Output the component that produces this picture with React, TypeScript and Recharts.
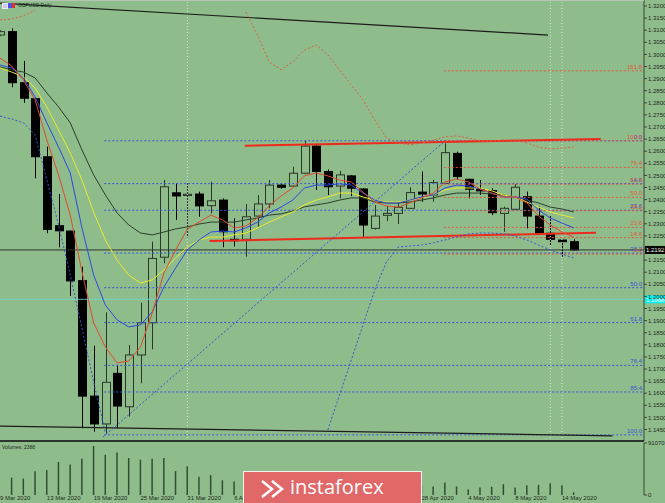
import React from 'react';
import { ComposedChart, Bar, Line, XAxis, YAxis, ReferenceLine } from 'recharts';

const BG = '#8fbc8b';

const dates = [
  '9 Mar 2020', '10 Mar 2020', '11 Mar 2020', '12 Mar 2020', '13 Mar 2020',
  '16 Mar 2020', '17 Mar 2020', '18 Mar 2020', '19 Mar 2020', '20 Mar 2020',
  '23 Mar 2020', '24 Mar 2020', '25 Mar 2020', '26 Mar 2020', '27 Mar 2020',
  '30 Mar 2020', '31 Mar 2020', '1 Apr 2020', '2 Apr 2020', '3 Apr 2020',
  '6 Apr 2020', '7 Apr 2020', '8 Apr 2020', '9 Apr 2020', '10 Apr 2020',
  '13 Apr 2020', '14 Apr 2020', '15 Apr 2020', '16 Apr 2020', '17 Apr 2020',
  '20 Apr 2020', '21 Apr 2020', '22 Apr 2020', '23 Apr 2020', '24 Apr 2020',
  '27 Apr 2020', '28 Apr 2020', '29 Apr 2020', '30 Apr 2020', '1 May 2020',
  '4 May 2020', '5 May 2020', '6 May 2020', '7 May 2020', '8 May 2020',
  '11 May 2020', '12 May 2020', '13 May 2020', '14 May 2020', '15 May 2020',
];

const opens = [
  1.3080, 1.3094, 1.2883, 1.2817, 1.2577, 1.2292, 1.2270, 1.2065, 1.1588, 1.1473,
  1.1682, 1.1544, 1.1758, 1.1891, 1.2162, 1.2428, 1.2417, 1.2423, 1.2375, 1.2398,
  1.2236, 1.2236, 1.2332, 1.2382, 1.2460, 1.2456, 1.2509, 1.2621, 1.2516, 1.2456,
  1.2498, 1.2444, 1.2281, 1.2335, 1.2343, 1.2364, 1.2431, 1.2419, 1.2467, 1.2591,
  1.2484, 1.2443, 1.2437, 1.2343, 1.2360, 1.2412, 1.2332, 1.2261, 1.2233, 1.2226,
];
const highs = [
  1.3100, 1.3108, 1.2973, 1.2820, 1.2619, 1.2423, 1.2272, 1.2123, 1.1796, 1.1934,
  1.1717, 1.1799, 1.1974, 1.2226, 1.2481, 1.2467, 1.2470, 1.2433, 1.2474, 1.2405,
  1.2323, 1.2382, 1.2419, 1.2481, 1.2466, 1.2536, 1.2643, 1.2630, 1.2525, 1.2519,
  1.2502, 1.2447, 1.2378, 1.2374, 1.2387, 1.2451, 1.2516, 1.2481, 1.2633, 1.2598,
  1.2486, 1.2481, 1.2447, 1.2371, 1.2464, 1.2433, 1.2371, 1.2336, 1.2236, 1.2236,
];
const lows = [
  1.3075, 1.2864, 1.2800, 1.2488, 1.2261, 1.2203, 1.2002, 1.1455, 1.1441, 1.1434,
  1.1455, 1.1503, 1.1641, 1.1781, 1.2137, 1.2316, 1.2244, 1.2329, 1.2343, 1.2203,
  1.2206, 1.2164, 1.2288, 1.2364, 1.2445, 1.2453, 1.2505, 1.2440, 1.2419, 1.2405,
  1.2414, 1.2247, 1.2276, 1.2311, 1.2299, 1.2362, 1.2391, 1.2391, 1.2465, 1.2481,
  1.2405, 1.2419, 1.2336, 1.2267, 1.2357, 1.2281, 1.2259, 1.2212, 1.2164, 1.2190,
];
const closes = [
  1.3094, 1.2883, 1.2819, 1.2577, 1.2277, 1.2271, 1.2064, 1.1588, 1.1473, 1.1645,
  1.1547, 1.1758, 1.1891, 1.2157, 1.2453, 1.2415, 1.2422, 1.2374, 1.2395, 1.2267,
  1.2230, 1.2329, 1.2382, 1.2460, 1.2451, 1.2509, 1.2621, 1.2516, 1.2453, 1.2502,
  1.2447, 1.2295, 1.2332, 1.2343, 1.2368, 1.2429, 1.2423, 1.2470, 1.2594, 1.2495,
  1.2443, 1.2436, 1.2346, 1.2364, 1.2451, 1.2332, 1.2261, 1.2236, 1.2226, 1.2192,
];
const volumes = [
  null, 30400, 28700, 41800, 43500, 57900, 53300, 63600, 85900, 70400,
  74400, 64800, 61900, 63600, 64800, 41800, 50300, 32100, 34900, 25800,
  23500, 22000, 21000, 19000, 14000, 17000, 21000, 20000, 17000, 16000,
  18000, 22000, 17000, 15000, 14000, 16000, 17000, 14900, 21800, 14900,
  9800, 13200, 14300, 18900, 13200, 17200, 17700, 20600, 17200, 4600,
];

// moving averages
const maRed = [
  1.2985, 1.2952, 1.2894, 1.2812, 1.2646, 1.2502, 1.2336, 1.2102, 1.1890, 1.1791,
  1.1725, 1.1733, 1.1791, 1.1931, 1.2097, 1.2192, 1.2278, 1.2307, 1.2336, 1.2316,
  1.2283, 1.2291, 1.2324, 1.2374, 1.2415, 1.2448, 1.2498, 1.2510, 1.2498, 1.2481,
  1.2473, 1.2431, 1.2390, 1.2374, 1.2369, 1.2386, 1.2407, 1.2427, 1.2473, 1.2485,
  1.2473, 1.2444, 1.2427, 1.2411, 1.2411, 1.2386, 1.2332, 1.2295, 1.2266, 1.2245,
];
const maBlue = [
  1.2956, 1.2944, 1.2903, 1.2824, 1.2717, 1.2617, 1.2510, 1.2283, 1.2088, 1.1964,
  1.1903, 1.1874, 1.1882, 1.1936, 1.2039, 1.2117, 1.2192, 1.2233, 1.2266, 1.2270,
  1.2266, 1.2283, 1.2307, 1.2345, 1.2369, 1.2398, 1.2448, 1.2460, 1.2460, 1.2465,
  1.2460, 1.2427, 1.2398, 1.2386, 1.2386, 1.2398, 1.2411, 1.2419, 1.2448, 1.2460,
  1.2456, 1.2444, 1.2427, 1.2411, 1.2411, 1.2402, 1.2357, 1.2324, 1.2303, 1.2283,
];
const maYellow = [
  1.2944, 1.2927, 1.2907, 1.2861, 1.2783, 1.2688, 1.2593, 1.2481, 1.2348, 1.2233,
  1.2150, 1.2088, 1.2055, 1.2068, 1.2109, 1.2159, 1.2204, 1.2233, 1.2245, 1.2245,
  1.2254, 1.2262, 1.2283, 1.2307, 1.2328, 1.2349, 1.2378, 1.2398, 1.2411, 1.2427,
  1.2427, 1.2411, 1.2398, 1.2390, 1.2390, 1.2398, 1.2407, 1.2419, 1.2440, 1.2448,
  1.2448, 1.2448, 1.2436, 1.2419, 1.2411, 1.2390, 1.2369, 1.2349, 1.2336, 1.2324,
];
const maDark = [
  1.2948, 1.2936, 1.2927, 1.2903, 1.2841, 1.2783, 1.2717, 1.2605, 1.2502, 1.2419,
  1.2345, 1.2295, 1.2262, 1.2254, 1.2266, 1.2279, 1.2287, 1.2299, 1.2307, 1.2307,
  1.2307, 1.2316, 1.2324, 1.2336, 1.2341, 1.2353, 1.2370, 1.2378, 1.2386, 1.2398,
  1.2407, 1.2407, 1.2390, 1.2386, 1.2386, 1.2390, 1.2398, 1.2407, 1.2419, 1.2427,
  1.2427, 1.2427, 1.2423, 1.2419, 1.2411, 1.2398, 1.2386, 1.2369, 1.2361, 1.2349,
];
const bandUpper = [
  1.3142, 1.3146, 1.3159, 1.3183, null, null, null, null, null, null,
  null, null, null, null, null, null, null, null, null, null,
  null, 1.3175, 1.3080, 1.2969, 1.2936, 1.2969, 1.3018, 1.3039, 1.2998, 1.2936,
  1.2874, 1.2812, 1.2729, 1.2655, 1.2634, 1.2626, 1.2634, 1.2646, 1.2659, 1.2663,
  1.2655, 1.2642, 1.2642, 1.2646, 1.2646, 1.2634, 1.2617, 1.2609, 1.2613, 1.2617,
];
const bandLower = [
  1.2745, 1.2733, 1.2717, 1.2667, 1.2481, 1.2295, 1.2088, 1.1869, 1.1646, 1.1436,
  null, null, null, null, null, null, null, null, null, null,
  null, null, null, null, null, null, null, null, 1.1448, 1.1593,
  1.1737, 1.1882, 1.2026, 1.2142, 1.2204, 1.2208, 1.2212, 1.2221, 1.2233, 1.2246,
  1.2258, 1.2262, 1.2262, 1.2258, 1.2250, 1.2233, 1.2212, 1.2192, 1.2175, 1.2159,
];

const priceTicks = [
  1.32, 1.315, 1.31, 1.305, 1.3, 1.295, 1.29, 1.285, 1.28, 1.275, 1.27, 1.265,
  1.26, 1.255, 1.25, 1.245, 1.24, 1.235, 1.23, 1.225, 1.22, 1.215, 1.21, 1.205,
  1.2, 1.195, 1.19, 1.185, 1.18, 1.175, 1.17, 1.165, 1.16, 1.155, 1.15, 1.145,
];
const dateTickIdx = [0, 4, 8, 12, 16, 20, 24, 28, 32, 36, 40, 44, 48];

const fibBlueLabels = ['0.0', '14.6', '23.6', '38.2', '50.0', '61.8', '76.4', '85.4', '100.0'];
const fibBluePrices = [1.2643, 1.2466, 1.2356, 1.2179, 1.2036, 1.1892, 1.1715, 1.1605, 1.1428];
const fibRedLabels = ['161.8', '100.0', '76.4', '61.8', '50.0', '38.2', '23.6', '14.6', '0.0'];
const fibRedPrices = [1.2932, 1.2643, 1.2533, 1.2464, 1.2409, 1.2354, 1.2285, 1.2243, 1.2175];
const fibBlueStart = 8.9;
const fibRedStart = 37.9;

const bidPrice = 1.2192;
const cyanPrice = 1.1988;
const separators = [16, 47, 48];

const trendLines = [
  { a: [0, 1.3212], b: [46.8, 1.308], color: '#1c1c1c', width: 1.2, dash: undefined },
  { a: [0, 1.1464], b: [52.3, 1.1424], color: '#1c1c1c', width: 1.2, dash: undefined },
  { a: [20.9, 1.2623], b: [51.3, 1.265], color: '#ee2a1c', width: 2, dash: undefined },
  { a: [17.9, 1.2229], b: [50.9, 1.2263], color: '#ee2a1c', width: 2, dash: undefined },
  { a: [8.8, 1.1419], b: [37.9, 1.2638], color: '#3553d8', width: 1, dash: '2 2' },
];

const rows = dates.map((d, i) => ({
  i,
  date: d,
  open: opens[i],
  high: highs[i],
  low: lows[i],
  close: closes[i],
  vol: volumes[i],
  red: maRed[i],
  blue: maBlue[i],
  yellow: maYellow[i],
  dark: maDark[i],
  upper: bandUpper[i],
  lower: bandLower[i],
}));

const Candle = (props: any) => {
  const { x, y, width, height, payload } = props;
  if (!payload) return null;
  const { open, close, high, low } = payload;
  const top = Math.min(y, y + height);
  const h = Math.abs(height);
  const k = high === low ? 0 : h / (high - low);
  const py = (p: number) => top + (high - p) * k;
  const cx = Math.round(x + width / 2) + 0.5;
  const up = close >= open;
  const bTop = py(Math.max(open, close));
  const bBot = py(Math.min(open, close));
  const bh = Math.max(1, bBot - bTop);
  const col = up ? '#2a362a' : '#000';
  return (
    <g>
      <line x1={cx} x2={cx} y1={top} y2={top + h} stroke={col} strokeWidth={1} />
      <rect x={cx - 4} y={bTop} width={8} height={bh} fill={up ? BG : '#000'} stroke={col} strokeWidth={1} />
    </g>
  );
};

const PriceTag = (props: any) => {
  const { viewBox, text, bg, fg } = props;
  if (!viewBox) return null;
  const ax = viewBox.x + viewBox.width;
  return (
    <g>
      <rect x={ax + 1} y={viewBox.y - 4} width={21} height={8} fill={bg} />
      <text x={ax + 2} y={viewBox.y + 2.5} fontSize={6} fill={fg}>{text}</text>
    </g>
  );
};

const DateTick = (props: any) => {
  const { x, y, payload } = props;
  return (
    <text x={x} y={y + 5} fontSize={6} fill="#1e2a1e" textAnchor="start">
      {dates[payload.value]}
    </text>
  );
};

const lbl = (value: string, fill: string) => ({
  value,
  position: 'insideBottomRight' as const,
  fill,
  fontSize: 6,
  offset: 2,
});

export default function App() {
  const font = 'Liberation Sans, Arial, sans-serif';
  return (
    <div style={{ position: 'absolute', left: 0, top: 0, width: 665, height: 503, background: BG, overflow: 'hidden', fontFamily: font }}>
      <div style={{ position: 'absolute', left: 0, top: 0 }}>
        <ComposedChart width={665} height={441} data={rows} margin={{ top: 0, right: 0, left: 0, bottom: 0 }}>
          <XAxis type="number" dataKey="i" domain={[0, 55]} allowDataOverflow hide />
          <YAxis
            orientation="right"
            width={21}
            domain={[1.14025, 1.32248]}
            allowDataOverflow
            ticks={priceTicks}
            interval={0}
            tickFormatter={(v: number) => v.toFixed(4)}
            tick={{ fontSize: 6, fill: '#1e2a1e', fontFamily: font }}
            tickSize={3}
            tickMargin={1}
            stroke="#3a463a"
          />
          {separators.map((s) => (
            <ReferenceLine key={'s' + s} x={s} stroke="#d6e6d4" strokeDasharray="1 2" />
          ))}
          <ReferenceLine y={cyanPrice} stroke="#6fdcd0" strokeOpacity={0.8}
            label={<PriceTag text="1.1988" bg="#00f0f0" fg="#ffffff" />} />
          {fibBluePrices.map((p, k) => (
            <ReferenceLine key={'b' + k} segment={[{ x: fibBlueStart, y: p }, { x: 55, y: p }]}
              stroke="#3553d8" strokeDasharray="2 2" ifOverflow="hidden"
              label={lbl(fibBlueLabels[k], '#3553d8')} />
          ))}
          {fibRedPrices.map((p, k) => (
            <ReferenceLine key={'r' + k} segment={[{ x: fibRedStart, y: p }, { x: 55, y: p }]}
              stroke="#e0553a" strokeDasharray="2 2" ifOverflow="hidden"
              label={lbl(fibRedLabels[k], '#e0553a')} />
          ))}
          <ReferenceLine y={bidPrice} stroke="#2e342e"
            label={<PriceTag text="1.2192" bg="#000000" fg="#ffffff" />} />
          {trendLines.map((t, k) => (
            <ReferenceLine key={'t' + k} segment={[{ x: t.a[0], y: t.a[1] }, { x: t.b[0], y: t.b[1] }]}
              stroke={t.color} strokeWidth={t.width} strokeDasharray={t.dash} ifOverflow="hidden" />
          ))}
          <Line dataKey="upper" stroke="#d9603f" strokeWidth={1} strokeDasharray="2 2" dot={false} isAnimationActive={false} />
          <Line dataKey="lower" stroke="#3553d8" strokeWidth={1} strokeDasharray="2 2" dot={false} isAnimationActive={false} />
          <Line dataKey="dark" stroke="#2c3f2c" strokeWidth={1} dot={false} isAnimationActive={false} />
          <Line dataKey="yellow" stroke="#eaea30" strokeWidth={1} dot={false} isAnimationActive={false} />
          <Line dataKey="blue" stroke="#2c48e0" strokeWidth={1} dot={false} isAnimationActive={false} />
          <Line dataKey="red" stroke="#e04a2c" strokeWidth={1} dot={false} isAnimationActive={false} />
          <Bar dataKey={(d: any) => [d.low, d.high]} barSize={8} shape={<Candle />} isAnimationActive={false} />
        </ComposedChart>
      </div>
      <div style={{ position: 'absolute', left: 0, top: 441 }}>
        <ComposedChart width={665} height={62} data={rows} margin={{ top: 2, right: 0, left: 0, bottom: 0 }}>
          <XAxis type="number" dataKey="i" domain={[0, 55]} allowDataOverflow ticks={dateTickIdx}
            interval={0} height={8} tickSize={0} tickMargin={0} axisLine={false} tickLine={false} tick={<DateTick />} />
          <YAxis orientation="right" width={21} domain={[0, 91070]} ticks={[0, 91070]} interval={0}
            tick={{ fontSize: 6, fill: '#1e2a1e', fontFamily: font }} tickSize={3} tickMargin={1} stroke="#3a463a" />
          <Bar dataKey="vol" barSize={1.5} fill="#2f4f30" isAnimationActive={false} />
        </ComposedChart>
      </div>
      <div style={{ position: 'absolute', left: 0, top: 0, width: 644, height: 1, background: '#b8c4b8' }} />
      <div style={{ position: 'absolute', left: 0, top: 440, width: 644, height: 2, background: '#2e342e' }} />
      <div style={{ position: 'absolute', left: 2, top: 3, width: 4, height: 4, border: '1px solid #e8e8ff', background: '#c8c8f0' }} />
      <div style={{ position: 'absolute', left: 8, top: 3, width: 4, height: 5, background: '#5050e0' }} />
      <div style={{ position: 'absolute', left: 12, top: 3, width: 3, height: 5, background: '#e03030' }} />
      <div style={{ position: 'absolute', left: 18, top: 2, fontSize: 5, color: '#1e2a1e', whiteSpace: 'nowrap' }}>GBPUSD,Daily</div>
      <div style={{ position: 'absolute', left: 2, top: 444, fontSize: 5, color: '#1e2a1e', whiteSpace: 'nowrap' }}>Volumes: 2388</div>
      <div style={{ position: 'absolute', left: 243, top: 471, width: 179, height: 34, background: '#e06868', border: '1px solid #f2f2f2', boxSizing: 'border-box' }}>
        <svg width={30} height={24} style={{ position: 'absolute', left: 14, top: 5 }}>
          <path d="M4 4 L14 12 L4 20" stroke="#fff" strokeWidth={2.5} fill="none" />
          <path d="M14 4 L24 12 L14 20" stroke="#fff" strokeWidth={2.5} fill="none" />
        </svg>
        <div style={{ position: 'absolute', left: 46, top: 2, fontSize: 20, color: '#ffffff', fontFamily: 'Open Sans, sans-serif', lineHeight: '26px' }}>
          instaforex
        </div>
      </div>
    </div>
  );
}
